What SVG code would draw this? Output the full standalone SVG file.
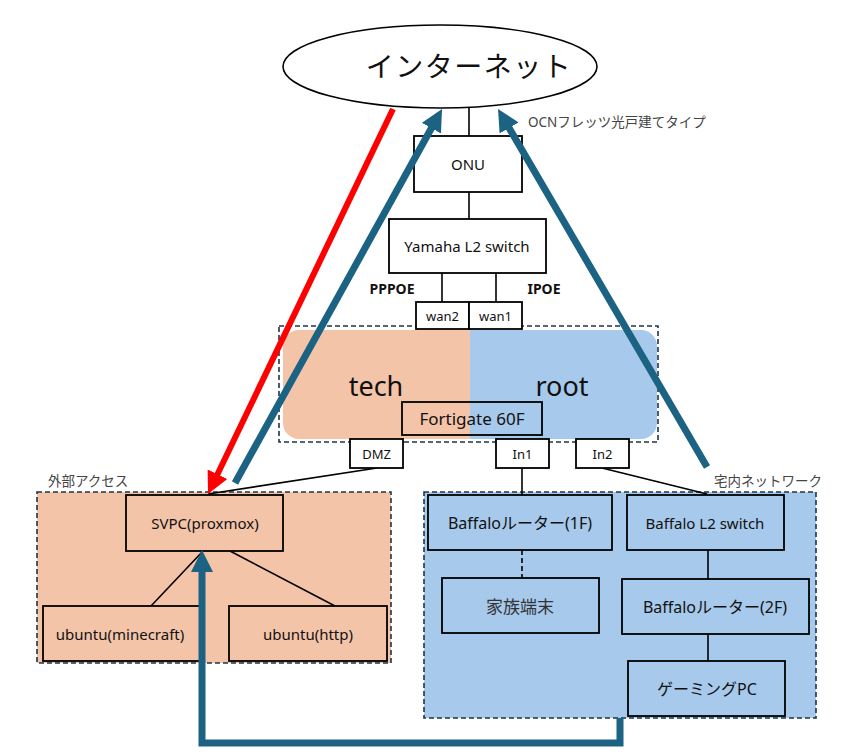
<svg xmlns="http://www.w3.org/2000/svg" width="864" height="753" viewBox="0 0 864 753">
<defs>
<style>
text{font-family:"Noto Sans","Noto Sans CJK JP",sans-serif;fill:#111;text-anchor:middle;dominant-baseline:central}
.box{fill:#fff;stroke:#000;stroke-width:1.8}
.pbox{fill:#F4C4A9;stroke:#000;stroke-width:1.8}
.bbox{fill:#A7C9EB;stroke:#000;stroke-width:1.8}
.grp{stroke:#1E3447;stroke-width:1.6;stroke-dasharray:5 3}
.ln{stroke:#000;stroke-width:1.6;fill:none}
.lbl{font-size:13.5px;fill:#444;text-anchor:start}
.blue{stroke:#1B6283;stroke-width:7;fill:none}
.red{stroke:#FF0000;stroke-width:6;fill:none}
</style>
<marker id="hb" viewBox="0 0 22 22" refX="4" refY="11" markerWidth="22" markerHeight="22" markerUnits="userSpaceOnUse" orient="auto"><path d="M0,0 L22,11 L0,22 z" fill="#1B6283"/></marker>
<marker id="hr" viewBox="0 0 22 22" refX="4" refY="11" markerWidth="22" markerHeight="22" markerUnits="userSpaceOnUse" orient="auto"><path d="M0,0 L22,11 L0,22 z" fill="#FF0000"/></marker>
</defs>
<rect width="864" height="753" fill="#fff"/>

<g id="internet">
<ellipse cx="440" cy="66.5" rx="157" ry="41.5" fill="#fff" stroke="#000" stroke-width="1.6"/>
<text x="469" y="66" style="font-size:28px;letter-spacing:1.5px">インターネット</text>
</g>
<text class="lbl" x="528" y="122" style="font-size:13.5px">OCNフレッツ光戸建てタイプ</text>

<g id="groups">
<rect x="37" y="492" width="354" height="171" fill="#F4C4A9" class="grp"/>
<text class="lbl" x="48" y="481">外部アクセス</text>
<rect x="424" y="492" width="392" height="226" fill="#A7C9EB" class="grp"/>
<text class="lbl" x="714" y="481">宅内ネットワーク</text>
</g>

<g id="fortigate-zone">
<rect x="283" y="330" width="200" height="109" rx="16" fill="#F4C4A9"/>
<rect x="470" y="330" width="187" height="109" rx="16" fill="#A7C9EB"/>
<rect x="470" y="330" width="20" height="109" fill="#A7C9EB"/>
<text x="376" y="385" style="font-size:27px">tech</text>
<text x="562" y="385" style="font-size:27px">root</text>
<rect x="279" y="326" width="379" height="116" fill="none" class="grp"/>
</g>

<g id="connectors">
<line class="ln" x1="469" y1="108" x2="469" y2="136"/>
<line class="ln" x1="469" y1="192" x2="469" y2="219"/>
<line class="ln" x1="442" y1="273" x2="442" y2="302"/>
<line class="ln" x1="496" y1="273" x2="496" y2="302"/>
<line class="ln" x1="377" y1="468" x2="208" y2="494"/>
<line class="ln" x1="522" y1="468" x2="522" y2="495"/>
<line class="ln" x1="602" y1="468" x2="707" y2="494"/>
<line class="ln" x1="203" y1="551" x2="151" y2="606"/>
<line class="ln" x1="230" y1="551" x2="335" y2="606"/>
<line class="ln" x1="522" y1="550" x2="522" y2="578" stroke-dasharray="5 3"/>
<line class="ln" x1="708" y1="550" x2="708" y2="579"/>
<line class="ln" x1="708" y1="634" x2="708" y2="661"/>
</g>

<g id="onu"><rect class="box" x="414" y="136" width="108" height="56"/><text x="468" y="164" style="font-size:15px">ONU</text></g>
<g id="yamaha"><rect class="box" x="389" y="219" width="157" height="54"/><text x="467" y="246" style="font-size:15px">Yamaha L2 switch</text></g>
<text x="392" y="288" style="font-size:14px;font-weight:bold">PPPOE</text>
<text x="544" y="288" style="font-size:14px;font-weight:bold">IPOE</text>
<g id="wan2"><rect class="box" x="416" y="302" width="53" height="27"/><text x="442.5" y="315.5" style="font-size:13px">wan2</text></g>
<g id="wan1"><rect class="box" x="469" y="302" width="53" height="27"/><text x="495.5" y="315.5" style="font-size:13px">wan1</text></g>
<g id="fortigate"><rect x="402" y="402" width="140" height="33" fill="none" stroke="#000" stroke-width="1.8"/><text x="472" y="418.5" style="font-size:17px">Fortigate 60F</text></g>
<g id="dmz"><rect class="box" x="350" y="439" width="53" height="29"/><text x="376.5" y="453.5" style="font-size:13px">DMZ</text></g>
<g id="in1"><rect class="box" x="496" y="439" width="53" height="29"/><text x="522.5" y="453.5" style="font-size:13px">In1</text></g>
<g id="in2"><rect class="box" x="576" y="439" width="53" height="29"/><text x="602.5" y="453.5" style="font-size:13px">In2</text></g>

<g id="svpc"><rect class="pbox" x="126" y="495" width="157" height="56"/><text x="205" y="523" style="font-size:15px">SVPC(proxmox)</text></g>
<g id="ubuntu-minecraft"><rect class="pbox" x="43" y="606" width="157" height="55"/><text x="120" y="634" style="font-size:15px">ubuntu(minecraft)</text></g>
<g id="ubuntu-http"><rect class="pbox" x="229" y="606" width="158" height="55"/><text x="308" y="634" style="font-size:15px">ubuntu(http)</text></g>

<g id="baffalo-1f"><rect class="bbox" x="428" y="495" width="184" height="55"/><text x="520" y="523" style="font-size:16px">Baffaloルーター(1F)</text></g>
<g id="baffalo-l2"><rect class="bbox" x="627" y="495" width="157" height="55"/><text x="705" y="523" style="font-size:15px">Baffalo L2 switch</text></g>
<g id="family"><rect class="bbox" x="442" y="578" width="157" height="55"/><text x="520" y="606" style="font-size:17px;fill:#333">家族端末</text></g>
<g id="baffalo-2f"><rect class="bbox" x="622" y="579" width="187" height="55"/><text x="715" y="607" style="font-size:16px">Baffaloルーター(2F)</text></g>
<g id="gaming"><rect class="bbox" x="628" y="661" width="157" height="55"/><text x="707" y="689" style="font-size:16px">ゲーミングPC</text></g>

<g id="arrows">
<line class="red" x1="393" y1="109" x2="215.8" y2="477.8" marker-end="url(#hr)"/>
<line class="blue" x1="235" y1="483" x2="433.3" y2="124.7" marker-end="url(#hb)"/>
<line class="blue" x1="707" y1="467" x2="507.1" y2="124.5" marker-end="url(#hb)"/>
<path class="blue" d="M620,718 L620,743 L202,743 L202,568" marker-end="url(#hb)"/>
</g>
</svg>
